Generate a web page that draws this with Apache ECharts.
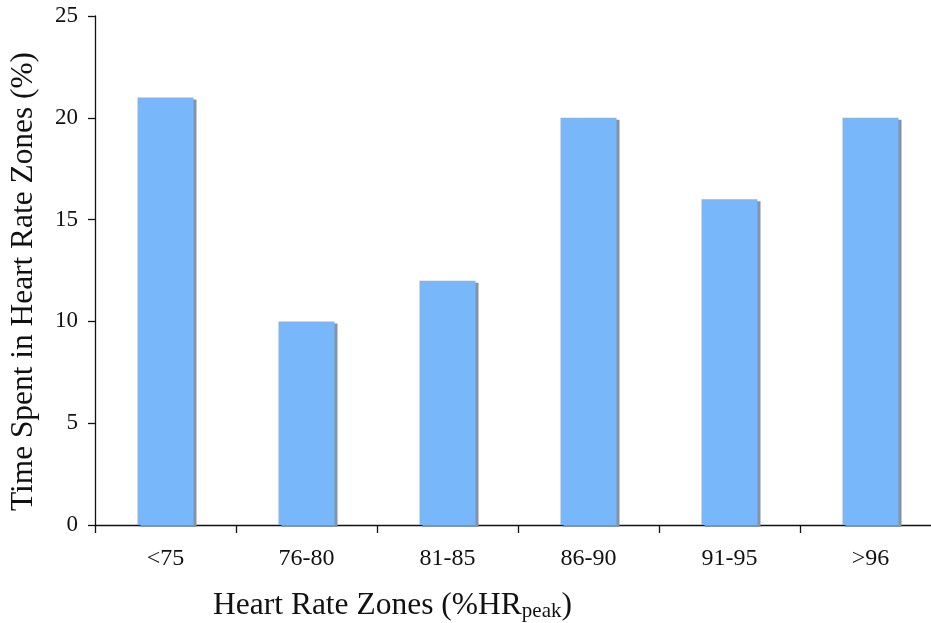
<!DOCTYPE html>
<html>
<head>
<meta charset="utf-8">
<script src="https://cdn.jsdelivr.net/npm/echarts@6/dist/echarts.min.js"></script>
<style>
html,body{margin:0;padding:0;background:#fff;}
#chart{width:931px;height:623px;}
</style>
</head>
<body>
<div id="chart"></div>
<script>
const categories = ['<75', '76-80', '81-85', '86-90', '91-95', '>96'];
const timeSpent = [21, 10, 12, 20, 16, 20];
const yTicks = [0, 5, 10, 15, 20, 25];
const yTitle = 'Time Spent in Heart Rate Zones (%)';
const xTitleMain = 'Heart Rate Zones (%HR';
const xTitleSub = 'peak';
const xTitleEnd = ')';

const chart = echarts.init(document.getElementById('chart'));
const font = 'Liberation Serif';
chart.setOption({
  animation: false,
  backgroundColor: '#ffffff',
  grid: {left: 95, top: 16, width: 846, height: 509, containLabel: false, outerBoundsMode: 'none'},
  xAxis: {
    type: 'category',
    data: categories,
    boundaryGap: true,
    axisLine: {lineStyle: {color: '#111', width: 1.3}},
    axisTick: {show: true, length: 8, lineStyle: {color: '#111', width: 1.3}},
    axisLabel: {color: '#111', fontFamily: font, fontSize: 24, margin: 22},
    name: '{m|' + xTitleMain + '}{s|' + xTitleSub + '}{m|' + xTitleEnd + '}',
    nameLocation: 'middle',
    nameGap: 64,
    nameTextStyle: {
      padding: [0, 251, 0, 0],
      rich: {
        m: {fontFamily: font, fontSize: 31.5, color: '#111'},
        s: {fontFamily: font, fontSize: 21, color: '#111', padding: [12, 0, 0, 0]}
      }
    }
  },
  yAxis: {
    type: 'value',
    min: yTicks[0],
    max: yTicks[yTicks.length - 1],
    interval: 5,
    splitLine: {show: false},
    axisLine: {show: true, lineStyle: {color: '#111', width: 1.3}},
    axisTick: {show: true, length: 7, lineStyle: {color: '#111', width: 1.3}},
    axisLabel: {color: '#111', fontFamily: font, fontSize: 23, margin: 17},
    name: yTitle,
    nameLocation: 'middle',
    nameGap: 56,
    nameTextStyle: {fontFamily: font, fontSize: 31.4, color: '#111', padding: [0, 22, 0, 0]}
  },
  series: [{
    type: 'bar',
    data: timeSpent,
    barWidth: 56,
    itemStyle: {
      color: '#77B7FA',
      shadowColor: '#8a929c',
      shadowOffsetX: 3,
      shadowOffsetY: 2,
      shadowBlur: 0
    }
  }]
});
</script>
</body>
</html>
